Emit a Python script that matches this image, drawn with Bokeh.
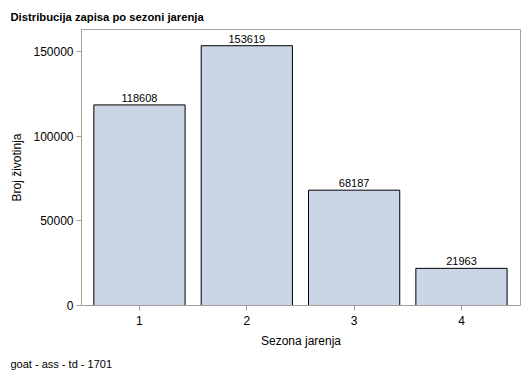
from bokeh.plotting import figure
from bokeh.models import Range1d, Title, ColumnDataSource, FixedTicker
from bokeh.core.properties import value
from bokeh.embed import file_html
from bokeh.resources import INLINE

categories = [1, 2, 3, 4]
counts = [118608, 153619, 68187, 21963]
tick_labels = {1: "1", 2: "2", 3: "3", 4: "4"}

FONT = "Liberation Sans"

src = ColumnDataSource(dict(x=categories, y=counts, lbl=[str(c) for c in counts]))

p = figure(width=529, height=378, output_backend="svg", toolbar_location=None,
           x_range=Range1d(0.46, 4.55), y_range=Range1d(0, 163200),
           min_border_left=81, min_border_right=9, min_border_top=29, min_border_bottom=73)

p.title.text = "Distribucija zapisa po sezoni jarenja"
p.title.text_font = FONT
p.title.text_font_size = "11.25px"
p.title.text_font_style = "bold"
p.title.text_color = "black"
p.title.align = "left"
p.title.offset = -71
p.title.standoff = 14

p.vbar(x="x", top="y", width=0.85, source=src, fill_color="#CAD5E5",
       line_color="black", line_width=1)
p.text(x="x", y="y", text="lbl", source=src, text_align="center",
       text_baseline="bottom", y_offset=-3, text_font=value(FONT),
       text_font_size="11px", text_color="black")

p.xgrid.visible = False
p.ygrid.visible = False
p.outline_line_color = "#A0A0A0"
p.outline_line_width = 1
p.background_fill_color = "white"
p.border_fill_color = "white"

for ax in (p.xaxis, p.yaxis):
    ax.axis_line_color = "#A0A0A0"
    ax.major_tick_line_color = "#A0A0A0"
    ax.major_tick_out = 5
    ax.major_tick_in = 0
    ax.minor_tick_line_color = None
    ax.major_label_text_font = FONT
    ax.major_label_text_font_size = "12px"
    ax.major_label_text_color = "black"
    ax.axis_label_text_font = FONT
    ax.axis_label_text_font_size = "12px"
    ax.axis_label_text_font_style = "normal"
    ax.axis_label_text_color = "black"

p.xaxis.ticker = FixedTicker(ticks=categories)
p.xaxis.major_label_overrides = tick_labels
p.xaxis.axis_label = "Sezona jarenja"
p.xaxis.major_label_standoff = 5
p.xaxis.axis_label_standoff = 6

p.yaxis.ticker = FixedTicker(ticks=[0, 50000, 100000, 150000])
p.yaxis.axis_label = "Broj životinja"
p.yaxis.major_label_standoff = 3
p.yaxis.axis_label_standoff = 6
p.yaxis.formatter.use_scientific = False

foot = Title(text="goat - ass - td - 1701", align="left", offset=-71,
             text_font=FONT, text_font_size="11px", text_font_style="normal",
             text_color="black", standoff=10)
p.add_layout(foot, "below")

open("out.html", "w").write(file_html(p, INLINE))
